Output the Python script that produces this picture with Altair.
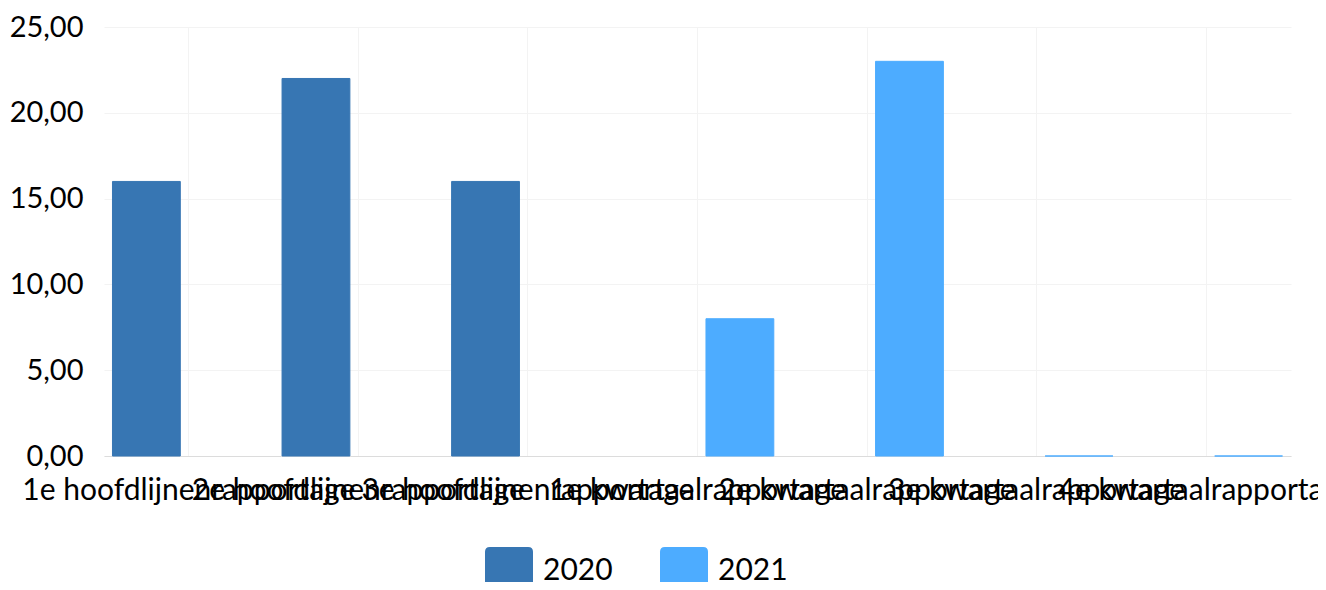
import altair as alt
import pandas as pd

categories = [
    "1e hoofdlijnenrapportage",
    "2e hoofdlijnenrapportage",
    "3e hoofdlijnenrapportage",
    "1e kwartaalrapportage",
    "2e kwartaalrapportage",
    "3e kwartaalrapportage",
    "4e kwartaalrapportage",
]
years = ["2020", "2021"]
values_2020 = [16, 22, 16, None, None, None, None]
values_2021 = [None, None, None, 8, 23, 0, 0]
colors = ["#3776B3", "#4DACFF"]

rows = []
for c, v in zip(categories, values_2020):
    if v is not None:
        rows.append({"cat": c, "year": "2020", "value": v})
for c, v in zip(categories, values_2021):
    if v is not None:
        rows.append({"cat": c, "year": "2021", "value": v})
df = pd.DataFrame(rows)

FONT = "Lato"
rounded_square = "M-0.8,-1 H0.8 Q1,-1 1,-0.8 V0.8 Q1,1 0.8,1 H-0.8 Q-1,1 -1,0.8 V-0.8 Q-1,-1 -0.8,-1 Z"

color_scale = alt.Scale(domain=years, range=colors)

chart = (
    alt.Chart(df)
    .mark_bar(strokeWidth=1)
    .encode(
        x=alt.X(
            "cat:N",
            sort=categories,
            scale=alt.Scale(domain=categories, paddingInner=0.1, paddingOuter=0.05),
            axis=alt.Axis(
                title=None,
                labelAngle=0,
                labelOverlap=False,
                labelLimit=0,
                labelFont=FONT,
                labelFontSize=30,
                labelColor="#000000",
                labelPadding=19,
                ticks=False,
                grid=True,
                gridColor="#f3f3f3",
                gridWidth=1,
                bandPosition=0.5,
                domain=True,
                domainColor="#dcdcdc",
                domainWidth=1,
            ),
        ),
        xOffset=alt.XOffset(
            "year:N",
            scale=alt.Scale(domain=years, paddingInner=0.2, paddingOuter=0),
        ),
        y=alt.Y(
            "value:Q",
            scale=alt.Scale(domain=[0, 25], nice=False),
            axis=alt.Axis(
                title=None,
                values=[0, 5, 10, 15, 20, 25],
                labelExpr="replace(format(datum.value, '.2f'), '.', ',')",
                labelFont=FONT,
                labelFontSize=29,
                labelColor="#000000",
                labelPadding=21,
                ticks=False,
                domain=False,
                grid=True,
                gridColor="#f3f3f3",
                gridWidth=1,
            ),
        ),
        color=alt.Color(
            "year:N",
            scale=color_scale,
            legend=alt.Legend(
                title=None,
                orient="none",
                legendX=381,
                legendY=520,
                direction="horizontal",
                symbolType=rounded_square,
                symbolSize=2304,
                symbolStrokeWidth=0,
                symbolOpacity=1,
                labelFont=FONT,
                labelFontSize=30,
                labelColor="#000000",
                labelOffset=10,
                columnPadding=47,
                padding=0,
            ),
        ),
        stroke=alt.Stroke("year:N", scale=color_scale, legend=None),
    )
    .properties(
        width=1187,
        height=429,
        autosize=alt.AutoSizeParams(type="none"),
        padding={"left": 96, "top": 19, "right": 27, "bottom": 126},
    )
    .configure_view(stroke=None)
)

chart.save("out.html", embed_options={"renderer": "svg", "actions": False})
